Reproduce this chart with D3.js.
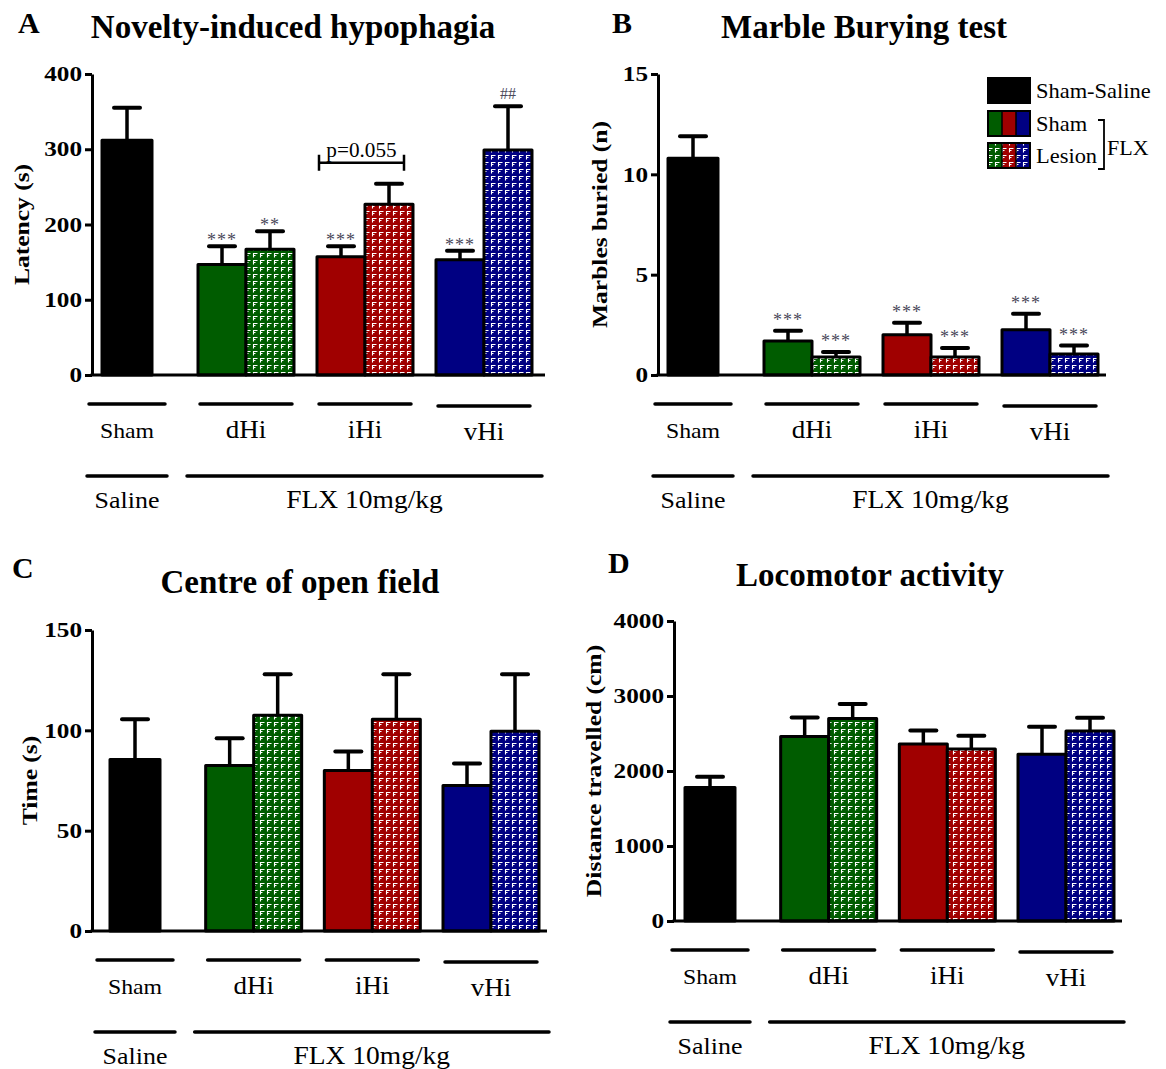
<!DOCTYPE html>
<html><head><meta charset="utf-8">
<script src="https://cdn.jsdelivr.net/npm/d3@7"></script>
<style>
html,body{margin:0;padding:0;background:#fff;}
svg{display:block;font-family:"Liberation Serif","Times New Roman",serif;}
</style></head>
<body>
<svg id="chart" width="1166" height="1069"></svg>
<script>
// ---------- data ----------
const groups = ["Sham", "dHi", "iHi", "vHi"];
const barGroup = ["Sham", "dHi", "dHi", "iHi", "iHi", "vHi", "vHi"];
const barKind = ["saline", "sham", "lesion", "sham", "lesion", "sham", "lesion"];
const barColor = ["black", "green", "green", "red", "red", "blue", "blue"];

const hypophagiaMean = [312, 147, 167, 157, 227, 153, 299];
const hypophagiaSem  = [43, 24, 24, 14, 27, 12, 58];
const hypophagiaMarks = ["", "***", "**", "***", "", "***", "##"];
const hypophagiaTicks = [0, 100, 200, 300, 400];

const marbleMean = [10.8, 1.7, 0.9, 2.0, 0.9, 2.25, 1.05];
const marbleSem  = [1.1, 0.5, 0.25, 0.6, 0.45, 0.8, 0.42];
const marbleMarks = ["", "***", "***", "***", "***", "***", "***"];
const marbleTicks = [0, 5, 10, 15];

const openFieldMean = [85.5, 82.5, 107.5, 80, 105.5, 72.5, 99.5];
const openFieldSem  = [20, 13.5, 20.5, 9.5, 22.5, 11, 28.5];
const openFieldMarks = ["", "", "", "", "", "", ""];
const openFieldTicks = [0, 50, 100, 150];

const locomotorMean = [1780, 2460, 2700, 2360, 2295, 2225, 2535];
const locomotorSem  = [145, 255, 195, 180, 175, 365, 175];
const locomotorMarks = ["", "", "", "", "", "", ""];
const locomotorTicks = [0, 1000, 2000, 3000, 4000];

const legendLabels = ["Sham-Saline", "Sham", "Lesion"];
const treatmentLabels = ["Saline", "FLX 10mg/kg"];

// ---------- styles ----------
const colors = {black: "#000000", green: "#005c00", red: "#a00000", blue: "#000082"};
const FONT = '"Liberation Serif","Times New Roman",serif';

const svg = d3.select("#chart");
const defs = svg.append("defs");
["green", "red", "blue"].forEach(c => {
  const p = defs.append("pattern").attr("id", "pat-" + c)
    .attr("patternUnits", "userSpaceOnUse").attr("width", 7).attr("height", 7);
  p.append("rect").attr("width", 7).attr("height", 7).attr("fill", colors[c]);
  p.append("path").attr("d", "M1.5,5.5 V1.5 H5.5 M1.5,3.5 H3.5")
    .attr("stroke", "#fff").attr("stroke-width", 1.1).attr("fill", "none");
});
function fillFor(i) {
  if (barKind[i] === "lesion") return "url(#pat-" + barColor[i] + ")";
  return colors[barColor[i]];
}
// horizontally widen text (the reference type is slightly stretched)
function stretch(sel, k) {
  sel.each(function () {
    const w = this.getComputedTextLength();
    d3.select(this).attr("textLength", w * k).attr("lengthAdjust", "spacingAndGlyphs");
  });
  return sel;
}

function panel(cfg) {
  const g = svg.append("g");
  const y = d3.scaleLinear().domain(cfg.domain).range([cfg.yBottom, cfg.yTop]);
  const x = d3.scalePoint().domain(groups).range(cfg.xRange);
  const bw = 48;

  // panel letter and title
  g.append("text").attr("x", cfg.letterX).attr("y", cfg.letterY)
    .attr("font-size", 30).attr("font-weight", "bold").text(cfg.letter);
  g.append("text").attr("x", cfg.titleX).attr("y", cfg.titleY)
    .attr("text-anchor", "middle").attr("font-size", 33).attr("font-weight", "bold").text(cfg.title);

  // y axis
  const ax = g.append("g").attr("transform", `translate(${cfg.axisX},0)`)
    .call(d3.axisLeft(y).tickValues(cfg.ticks).tickFormat(d3.format("d"))
      .tickSize(7).tickSizeOuter(0).tickPadding(3));
  ax.select(".domain").attr("stroke", "#000").attr("stroke-width", 3);
  ax.selectAll(".tick line").attr("stroke", "#000").attr("stroke-width", 3);
  stretch(ax.selectAll(".tick text").attr("font-family", FONT).attr("font-size", 21)
    .attr("font-weight", "bold").attr("fill", "#000"), 1.2);

  stretch(g.append("text")
    .attr("transform", `translate(${cfg.yLabelX},${(cfg.yTop + cfg.yBottom) / 2}) rotate(-90)`)
    .attr("text-anchor", "middle").attr("font-size", 22).attr("font-weight", "bold").text(cfg.yLabel), 1.16);

  // bars
  const bx = i => {
    const c = x(barGroup[i]);
    if (barKind[i] === "saline") return c - 25;
    if (barKind[i] === "sham") return c - bw;
    return c;
  };
  const bwid = i => barKind[i] === "saline" ? 50 : bw;

  cfg.mean.forEach((m, i) => {
    const cx = bx(i) + bwid(i) / 2;
    const top = y(m + cfg.sem[i]);
    g.append("line").attr("x1", cx).attr("x2", cx).attr("y1", y(m)).attr("y2", top)
      .attr("stroke", "#000").attr("stroke-width", 3.5);
    g.append("line").attr("x1", cx - 13).attr("x2", cx + 13).attr("y1", top).attr("y2", top)
      .attr("stroke", "#000").attr("stroke-width", 4).attr("stroke-linecap", "round");
    g.append("rect").attr("x", bx(i)).attr("y", y(m)).attr("width", bwid(i))
      .attr("height", y(0) - y(m)).attr("fill", fillFor(i))
      .attr("stroke", "#000").attr("stroke-width", 3).attr("stroke-linejoin", "round");
    const mark = cfg.marks[i];
    if (mark) {
      const isHash = mark.indexOf("#") >= 0;
      g.append("text").attr("x", cx).attr("y", top - (isHash ? 7 : cfg.starOff))
        .attr("text-anchor", "middle").attr("font-size", isHash ? 16 : 18)
        .attr("fill", "#4a4a5a").attr("letter-spacing", isHash ? 0 : 1).text(mark);
    }
  });

  // x axis line
  g.append("line").attr("x1", cfg.axisX - 1.5).attr("x2", cfg.xEnd)
    .attr("y1", y(0)).attr("y2", y(0)).attr("stroke", "#000").attr("stroke-width", 3);

  // group labels
  const base = y(0);
  groups.forEach((gr, k) => {
    const c = x(gr);
    const half = k === 0 ? 38 : 46;
    const dy = k === 3 ? 2 : 0;
    g.append("line").attr("x1", c - half).attr("x2", c + half)
      .attr("y1", base + 29 + dy).attr("y2", base + 29 + dy)
      .attr("stroke", "#000").attr("stroke-width", 3.5).attr("stroke-linecap", "round");
    stretch(g.append("text").attr("x", c).attr("y", base + 63 + dy).attr("text-anchor", "middle")
      .attr("font-size", k === 0 ? 22 : 25).text(gr), 1.08);
  });
  const c0 = x(groups[0]);
  g.append("line").attr("x1", c0 - 40).attr("x2", c0 + 40)
    .attr("y1", base + 101).attr("y2", base + 101)
    .attr("stroke", "#000").attr("stroke-width", 3.5).attr("stroke-linecap", "round");
  stretch(g.append("text").attr("x", c0).attr("y", base + 133).attr("text-anchor", "middle")
    .attr("font-size", 24).text(treatmentLabels[0]), 1.08);
  const c1 = x(groups[1]), c3 = x(groups[3]);
  g.append("line").attr("x1", c1 - 59).attr("x2", c3 + 58)
    .attr("y1", base + 101).attr("y2", base + 101)
    .attr("stroke", "#000").attr("stroke-width", 3.5).attr("stroke-linecap", "round");
  stretch(g.append("text").attr("x", (c1 - 59 + c3 + 58) / 2).attr("y", base + 133).attr("text-anchor", "middle")
    .attr("font-size", 25).text(treatmentLabels[1]), 1.1);

  return {g, x, y};
}

// Panel A
const pa = panel({
  letter: "A", letterX: 18, letterY: 33, title: "Novelty-induced hypophagia", titleX: 293, titleY: 38,
  domain: [0, 400], ticks: hypophagiaTicks, yTop: 74, yBottom: 375, axisX: 92, xEnd: 545,
  xRange: [127, 484], yLabel: "Latency (s)", yLabelX: 29,
  mean: hypophagiaMean, sem: hypophagiaSem, marks: hypophagiaMarks, starOff: 0
});
// p = 0.055 bracket in panel A
{
  const yb = pa.y(282);
  const c = pa.x("iHi");
  const x1 = c - 46, x2 = c + 39;
  pa.g.append("path").attr("d", `M${x1},${yb - 8}V${yb + 8}M${x1},${yb}H${x2}M${x2},${yb - 8}V${yb + 8}`)
    .attr("stroke", "#000").attr("stroke-width", 2.5).attr("fill", "none");
  stretch(pa.g.append("text").attr("x", (x1 + x2) / 2).attr("y", yb - 6).attr("text-anchor", "middle")
    .attr("font-size", 20).text("p=0.055"), 1.06);
}

// Panel B
panel({
  letter: "B", letterX: 612, letterY: 33, title: "Marble Burying test", titleX: 864, titleY: 38,
  domain: [0, 15], ticks: marbleTicks, yTop: 74, yBottom: 375, axisX: 658, xEnd: 1106,
  xRange: [693, 1050], yLabel: "Marbles buried (n)", yLabelX: 607,
  mean: marbleMean, sem: marbleSem, marks: marbleMarks, starOff: 5
});

// Panel C
panel({
  letter: "C", letterX: 12, letterY: 578, title: "Centre of open field", titleX: 300, titleY: 593,
  domain: [0, 150], ticks: openFieldTicks, yTop: 630, yBottom: 931, axisX: 92, xEnd: 547,
  xRange: [135, 491], yLabel: "Time (s)", yLabelX: 37,
  mean: openFieldMean, sem: openFieldSem, marks: openFieldMarks, starOff: 0
});

// Panel D
panel({
  letter: "D", letterX: 608, letterY: 573, title: "Locomotor activity", titleX: 870, titleY: 586,
  domain: [0, 4000], ticks: locomotorTicks, yTop: 621, yBottom: 921, axisX: 674, xEnd: 1122,
  xRange: [710, 1066], yLabel: "Distance travelled (cm)", yLabelX: 601,
  mean: locomotorMean, sem: locomotorSem, marks: locomotorMarks, starOff: 0
});

// Legend (panel B)
{
  const lg = svg.append("g");
  const lx = 988, lw = 42, lh = 25;
  const rows = [78, 111, 143];
  lg.append("rect").attr("x", lx).attr("y", rows[0]).attr("width", lw).attr("height", lh)
    .attr("fill", "#000").attr("stroke", "#000").attr("stroke-width", 2);
  ["green", "red", "blue"].forEach((c, k) => {
    lg.append("rect").attr("x", lx + k * lw / 3).attr("y", rows[1]).attr("width", lw / 3).attr("height", lh)
      .attr("fill", colors[c]);
    lg.append("rect").attr("x", lx + k * lw / 3).attr("y", rows[2]).attr("width", lw / 3).attr("height", lh)
      .attr("fill", "url(#pat-" + c + ")");
  });
  [1, 2].forEach(r => {
    lg.append("rect").attr("x", lx).attr("y", rows[r]).attr("width", lw).attr("height", lh)
      .attr("fill", "none").attr("stroke", "#000").attr("stroke-width", 2);
    lg.append("line").attr("x1", lx + lw / 3).attr("x2", lx + lw / 3).attr("y1", rows[r]).attr("y2", rows[r] + lh)
      .attr("stroke", "#000").attr("stroke-width", 1.5);
    lg.append("line").attr("x1", lx + 2 * lw / 3).attr("x2", lx + 2 * lw / 3).attr("y1", rows[r]).attr("y2", rows[r] + lh)
      .attr("stroke", "#000").attr("stroke-width", 1.5);
  });
  legendLabels.forEach((t, k) => {
    stretch(lg.append("text").attr("x", 1036).attr("y", rows[k] + 20).attr("font-size", 22).text(t), 1.02);
  });
  lg.append("path").attr("d", "M1098,120H1104V169H1098").attr("stroke", "#000").attr("stroke-width", 1.8).attr("fill", "none");
  lg.append("text").attr("x", 1107).attr("y", 155).attr("font-size", 22).text("FLX");
}
</script>
</body></html>
